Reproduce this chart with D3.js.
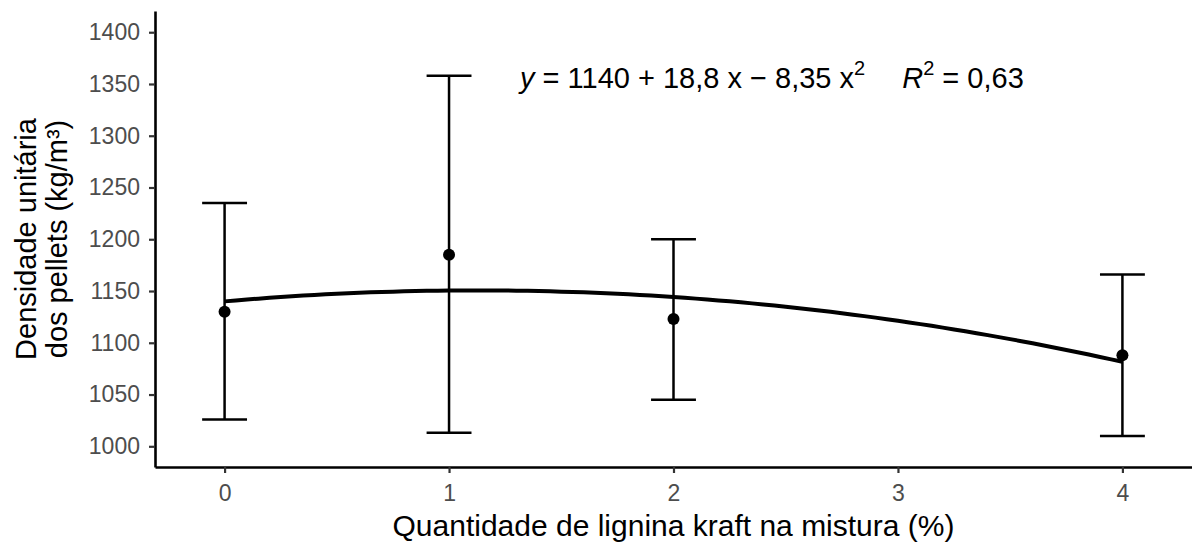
<!DOCTYPE html>
<html>
<head>
<meta charset="utf-8">
<script src="https://cdn.jsdelivr.net/npm/d3@7"></script>
<style>
  body { margin: 0; background: #fff; }
  text { font-family: "Liberation Sans", Arial, sans-serif; }
</style>
</head>
<body>
<svg id="svg0" width="1192" height="548"></svg>
<script>

// data
var doses = [0, 1, 2, 4];
var means = [1130, 1185, 1123, 1088];
var lower = [1026, 1013, 1045, 1010];
var upper = [1235, 1358, 1200, 1166];
var yTicks = [1000, 1050, 1100, 1150, 1200, 1250, 1300, 1350, 1400];
var xTicks = [0, 1, 2, 3, 4];
var coef = [1140, 18.8, -8.35];

var width = 1192;
var height = 548;

var plotLeft = 155, plotRight = 1192, plotTop = 11, plotBottom = 467;

var x = d3.scaleLinear().domain([-0.31, 4.31]).range([plotLeft, plotRight]);
var y = d3.scaleLinear().domain([980, 1420.5]).range([plotBottom, plotTop]);

var svg0 = d3.select('#svg0');

// axes
var xAxis = svg0.append('g')
    .attr('transform', 'translate(0,' + plotBottom + ')')
    .call(d3.axisBottom(x).tickValues(xTicks).tickFormat(d3.format('d'))
      .tickSize(6).tickSizeOuter(0).tickPadding(12));
var yAxis = svg0.append('g')
    .attr('transform', 'translate(' + plotLeft + ',0)')
    .call(d3.axisLeft(y).tickValues(yTicks).tickFormat(d3.format('d'))
      .tickSize(6).tickSizeOuter(0).tickPadding(9));

[xAxis, yAxis].forEach(function(a) {
  a.attr('font-size', 23).attr('font-family', '"Liberation Sans", Arial, sans-serif');
  a.select('.domain').attr('stroke', '#000').attr('stroke-width', 2.6);
  a.selectAll('.tick line').attr('stroke', '#333').attr('stroke-width', 2.2);
  a.selectAll('.tick text').attr('fill', '#4d4d4d');
});

// error bars
var capW = 0.1;
var eb = svg0.append('g').attr('stroke', '#000').attr('stroke-width', 2.5);
doses.forEach(function(d, i) {
  eb.append('line')
    .attr('x1', x(d)).attr('x2', x(d))
    .attr('y1', y(lower[i])).attr('y2', y(upper[i]));
  eb.append('line')
    .attr('x1', x(d - capW)).attr('x2', x(d + capW))
    .attr('y1', y(upper[i])).attr('y2', y(upper[i]));
  eb.append('line')
    .attr('x1', x(d - capW)).attr('x2', x(d + capW))
    .attr('y1', y(lower[i])).attr('y2', y(lower[i]));
});

// fitted curve
var curvePts = d3.range(0, 4.001, 0.05).map(function(v) {
  return [v, coef[0] + coef[1] * v + coef[2] * v * v];
});
svg0.append('path')
  .datum(curvePts)
  .attr('fill', 'none')
  .attr('stroke', '#000')
  .attr('stroke-width', 4)
  .attr('d', d3.line().x(function(d) { return x(d[0]); }).y(function(d) { return y(d[1]); }));

// means
svg0.selectAll('circle.pt')
  .data(doses)
  .enter().append('circle')
  .attr('class', 'pt')
  .attr('cx', function(d) { return x(d); })
  .attr('cy', function(d, i) { return y(means[i]); })
  .attr('r', 6)
  .attr('fill', '#000');

// equation
var eq = svg0.append('text')
  .attr('x', 520).attr('y', 88)
  .style('font-size', '29px')
  .attr('fill', '#000');
eq.append('tspan').style('font-style', 'italic').text('y');
eq.append('tspan').text(' = 1140 + 18,8 x \u2212 8,35 x');
eq.append('tspan').attr('dy', -13).style('font-size', '20px').text('2');
eq.append('tspan').attr('dy', 13).text('\u2003 ');
eq.append('tspan').style('font-style', 'italic').text('R');
eq.append('tspan').attr('dy', -13).style('font-size', '20px').text('2');
eq.append('tspan').attr('dy', 13).text(' = 0,63');

// axis titles
svg0.append('text')
  .attr('x', (plotLeft + plotRight) / 2).attr('y', 536)
  .attr('text-anchor', 'middle')
  .style('font-size', '30px')
  .text('Quantidade de lignina kraft na mistura (%)');

var yt = svg0.append('text')
  .attr('transform', 'translate(36,' + ((plotTop + plotBottom) / 2) + ') rotate(-90)')
  .attr('text-anchor', 'middle')
  .style('font-size', '29px');
yt.append('tspan').attr('x', 0).attr('dy', 0).text('Densidade unitária');
yt.append('tspan').attr('x', 0).attr('dy', 31).text('dos pellets (kg/m\u00b3)');

</script>
</body>
</html>
